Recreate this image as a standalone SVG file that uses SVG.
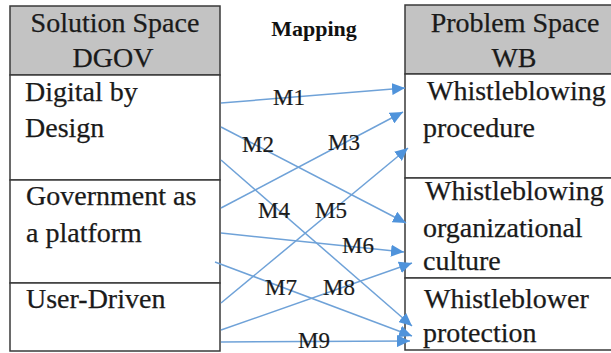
<svg xmlns="http://www.w3.org/2000/svg" width="611" height="353" viewBox="0 0 611 353">
<style>
.cell{fill:#fff;stroke:#3a3a3a;stroke-width:1.5}
.hdr{fill:#c3c3c3;stroke:#3a3a3a;stroke-width:1.5}
.t{font-size:28px;fill:#1a1a1a;stroke:#1a1a1a;stroke-width:0.25}
.m{font-size:23px;fill:#1a1a1a;stroke:#1a1a1a;stroke-width:0.2}
.b{font-size:22px;font-weight:bold;fill:#111}
.c{stroke:#6fa2d8;stroke-width:1.5;fill:none;marker-end:url(#ah)}
</style>
<defs>
<marker id="ah" markerUnits="userSpaceOnUse" markerWidth="14" markerHeight="12" refX="13" refY="6" orient="auto">
<path d="M0,0 L13,6 L0,12 Z" fill="#4f93db"/>
</marker>
</defs>
<rect width="611" height="353" fill="#fff"/>
<g id="left-table">
<g id="hdr-solution">
<rect class="hdr" x="10" y="6" width="210" height="69"/>
<text class="t" font-family="Liberation Serif" x="115" y="32" text-anchor="middle">Solution Space</text>
<text class="t" font-family="Liberation Serif" x="113" y="67" text-anchor="middle">DGOV</text>
</g>
<g id="node-digital">
<rect class="cell" x="10" y="75" width="210" height="105"/>
<text class="t" font-family="Liberation Serif" x="25" y="101">Digital by</text>
<text class="t" font-family="Liberation Serif" x="25" y="137">Design</text>
</g>
<g id="node-government">
<rect class="cell" x="10" y="180" width="210" height="103"/>
<text class="t" font-family="Liberation Serif" x="26" y="205">Government as</text>
<text class="t" font-family="Liberation Serif" x="26" y="242">a platform</text>
</g>
<g id="node-user">
<rect class="cell" x="10" y="283" width="210" height="68"/>
<text class="t" font-family="Liberation Serif" x="26" y="308">User-Driven</text>
</g>
</g>
<g id="right-table">
<g id="hdr-problem">
<rect class="hdr" x="405" y="5" width="215" height="69"/>
<text class="t" font-family="Liberation Serif" x="515" y="32" text-anchor="middle">Problem Space</text>
<text class="t" font-family="Liberation Serif" x="514" y="67" text-anchor="middle">WB</text>
</g>
<g id="node-procedure">
<rect class="cell" x="405" y="74" width="215" height="104"/>
<text class="t" font-family="Liberation Serif" x="427" y="100">Whistleblowing</text>
<text class="t" font-family="Liberation Serif" x="423" y="137">procedure</text>
</g>
<g id="node-culture">
<rect class="cell" x="405" y="178" width="215" height="100"/>
<text class="t" font-family="Liberation Serif" x="425" y="200">Whistleblowing</text>
<text class="t" font-family="Liberation Serif" x="423" y="237">organizational</text>
<text class="t" font-family="Liberation Serif" x="423" y="270">culture</text>
</g>
<g id="node-protection">
<rect class="cell" x="405" y="278" width="215" height="72"/>
<text class="t" font-family="Liberation Serif" x="424" y="308">Whistleblower</text>
<text class="t" font-family="Liberation Serif" x="423" y="342">protection</text>
</g>
</g>
<text class="b" font-family="Liberation Serif" x="314" y="36" text-anchor="middle">Mapping</text>
<g id="connectors">
<line class="c" x1="221" y1="103" x2="405" y2="88"/>
<line class="c" x1="221" y1="127" x2="406" y2="223"/>
<line class="c" x1="221" y1="208" x2="403" y2="112"/>
<line class="c" x1="221" y1="160" x2="412" y2="326"/>
<line class="c" x1="221" y1="303" x2="408" y2="148"/>
<line class="c" x1="221" y1="233" x2="404" y2="252"/>
<line class="c" x1="215" y1="262" x2="412" y2="336"/>
<line class="c" x1="221" y1="330" x2="412" y2="263"/>
<line class="c" x1="221" y1="342" x2="410" y2="341"/>
</g>
<g id="labels">
<text class="m" font-family="Liberation Serif" x="273" y="105">M1</text>
<text class="m" font-family="Liberation Serif" x="242" y="152">M2</text>
<text class="m" font-family="Liberation Serif" x="328" y="150">M3</text>
<text class="m" font-family="Liberation Serif" x="258" y="218">M4</text>
<text class="m" font-family="Liberation Serif" x="315" y="218">M5</text>
<text class="m" font-family="Liberation Serif" x="342" y="253">M6</text>
<text class="m" font-family="Liberation Serif" x="265" y="295">M7</text>
<text class="m" font-family="Liberation Serif" x="323" y="295">M8</text>
<text class="m" font-family="Liberation Serif" x="298" y="348">M9</text>
</g>
</svg>
